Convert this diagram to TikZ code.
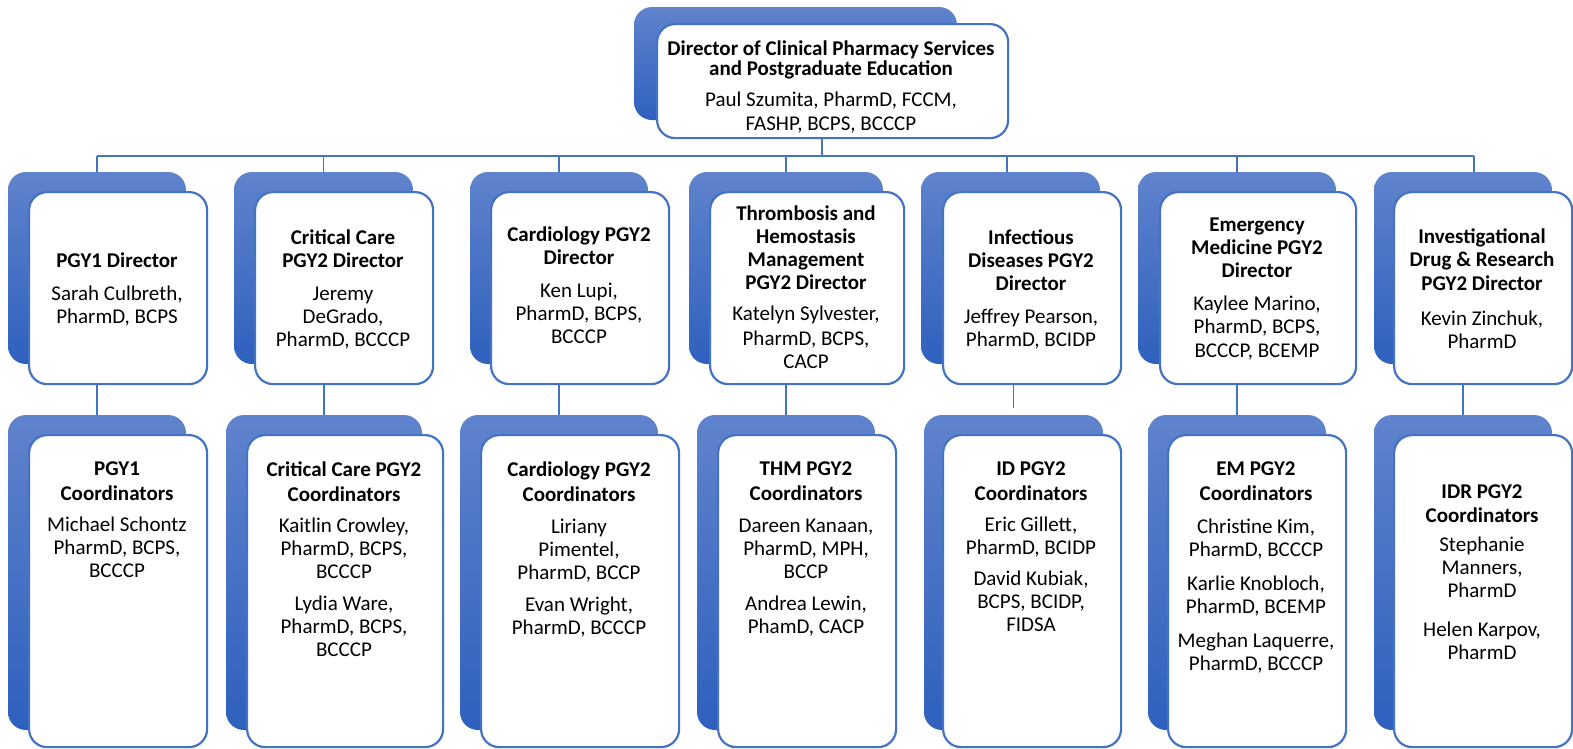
\documentclass[tikz,border=0pt]{standalone}
\usepackage{fontspec}
\setmainfont{Carlito}
\definecolor{bcol}{RGB}{68,114,196}
\definecolor{shtop}{RGB}{96,131,204}
\definecolor{shbot}{RGB}{47,96,190}
\begin{document}
\begin{tikzpicture}[x=1pt,y=-1pt,
  shadowbox/.style={top color=shtop, bottom color=shbot, draw=none, rounded corners=18pt, inner sep=0pt, outer sep=0pt, anchor=north west},
  whitebox/.style={draw=bcol, line width=2.2pt, fill=white, rounded corners=18pt, inner sep=0pt, anchor=north west},
  txt/.style={align=center, anchor=north, inner sep=0pt, font=\fontsize{21}{23}\selectfont, yshift=-4pt},
  conn/.style={draw=bcol, line width=1.5pt}]
\useasboundingbox[fill=white] (0,0) rectangle (1573,748);

% top box
\node[shadowbox, minimum width=323, minimum height=113] (sT) at (634,7) {};
\node[whitebox, minimum width=351, minimum height=114] (wT) at (656,23) {};
\node[txt] (tT) at (831,36.7) {\textbf{Director of Clinical Pharmacy Services}\\[-3pt]\textbf{and Postgraduate Education}\\[8pt]Paul Szumita, PharmD, FCCM,\\[1pt]FASHP, BCPS, BCCCP};

% row 2 (directors)
\foreach \n/\sx/\sw/\wx/\ww in {d1/8/178/28/178, d2/234/179/254/178, d3/470/178/490/178, d4/689/194/709/194, d5/921/179/942/178, d6/1138/198/1159/196, d7/1374/178/1393/178}{
  \node[shadowbox, minimum width=\sw, minimum height=192] (s\n) at (\sx,172) {};
  \node[whitebox, minimum width=\ww, minimum height=192] (w\n) at (\wx,191) {};
}
% row 3 (coordinators)
\foreach \n/\sx/\sw/\wx/\ww in {c1/8/178/28/178, c2/226/196/246/196, c3/460/198/480/198, c4/697/178/717/178, c5/924/179/942/178, c6/1148/178/1167/178, c7/1374/178/1393/178}{
  \node[shadowbox, minimum width=\sw, minimum height=315] (s\n) at (\sx,415) {};
  \node[whitebox, minimum width=\ww, minimum height=312] (w\n) at (\wx,434) {};
}

% texts row 2
\node[txt] (td1) at (117,248.7) {\textbf{PGY1 Director}\\[10pt]Sarah Culbreth,\\PharmD, BCPS};
\node[txt] (td2) at (343,225.7) {\textbf{Critical Care}\\\textbf{PGY2 Director}\\[10pt]Jeremy\\DeGrado,\\PharmD, BCCCP};
\node[txt] (td3) at (579,222.7) {\textbf{Cardiology PGY2}\\\textbf{Director}\\[10pt]Ken Lupi,\\PharmD, BCPS,\\BCCCP};
\node[txt] (td4) at (806,201.7) {\textbf{Thrombosis and}\\\textbf{Hemostasis}\\\textbf{Management}\\\textbf{PGY2 Director}\\[8pt]Katelyn Sylvester,\\[2pt]PharmD, BCPS,\\CACP};
\node[txt] (td5) at (1031,225.7) {\textbf{Infectious}\\\textbf{Diseases PGY2}\\\textbf{Director}\\[10pt]Jeffrey Pearson,\\PharmD, BCIDP};
\node[txt] (td6) at (1257,213.7) {\textbf{Emergency}\\\textbf{Medicine PGY2}\\\textbf{Director}\\[10pt]Kaylee Marino,\\PharmD, BCPS,\\[1pt]BCCCP, BCEMP};
\node[txt] (td7) at (1482,224.7) {\textbf{Investigational}\\\textbf{Drug \& Research}\\[1pt]\textbf{PGY2 Director}\\[12pt]Kevin Zinchuk,\\PharmD};

% texts row 3
\node[txt] (tc1) at (117,457.7) {\textbf{PGY1}\\[2pt]\textbf{Coordinators}\\[8pt]Michael Schontz\\PharmD, BCPS,\\BCCCP};
\node[txt] (tc2) at (344,457.7) {\textbf{Critical Care PGY2}\\[2pt]\textbf{Coordinators}\\[8pt]Kaitlin Crowley,\\PharmD, BCPS,\\BCCCP\\[9pt]Lydia Ware,\\PharmD, BCPS,\\BCCCP};
\node[txt] (tc3) at (579,457.7) {\textbf{Cardiology PGY2}\\[2pt]\textbf{Coordinators}\\[9pt]Liriany\\Pimentel,\\PharmD, BCCP\\[9pt]Evan Wright,\\PharmD, BCCCP};
\node[txt] (tc4) at (806,457.7) {\textbf{THM PGY2}\\[2pt]\textbf{Coordinators}\\[9pt]Dareen Kanaan,\\PharmD, MPH,\\BCCP\\[9pt]Andrea Lewin,\\PhamD, CACP};
\node[txt] (tc5) at (1031,457.7) {\textbf{ID PGY2}\\[2pt]\textbf{Coordinators}\\[8pt]Eric Gillett,\\PharmD, BCIDP\\[8pt]David Kubiak,\\BCPS, BCIDP,\\FIDSA};
\node[txt] (tc6) at (1256,457.7) {\textbf{EM PGY2}\\[2pt]\textbf{Coordinators}\\[10pt]Christine Kim,\\PharmD, BCCCP\\[11pt]Karlie Knobloch,\\PharmD, BCEMP\\[11pt]Meghan Laquerre,\\PharmD, BCCCP};
\node[txt] (tc7) at (1482,480.7) {\textbf{IDR PGY2}\\[1pt]\textbf{Coordinators}\\[6pt]Stephanie\\Manners,\\PharmD\\[16pt]Helen Karpov,\\PharmD};

% connectors
\coordinate (bus) at (822,156);
\coordinate (d5top) at ([xshift=-3.5pt]sd5.north);
\coordinate (d7top) at ([xshift=11pt]sd7.north);
\coordinate (c5top) at ([yshift=7pt]sc5.north);
\draw[conn] (wT.south -| bus) -- (bus);
\draw[conn] (sd1.north |- bus) -- (d7top |- bus);
\foreach \n in {d1,d2,d3,d4,d6}{\draw[conn] (s\n.north) -- (s\n.north |- bus);}
\draw[conn] (d5top) -- (d5top |- bus);
\draw[conn] (d7top) -- (d7top |- bus);
\foreach \a/\b in {d1/c1,d2/c2,d3/c3,d4/c4,d6/c6,d7/c7}{\draw[conn] (s\b.north) -- (s\b.north |- w\a.south);}
\draw[conn] (c5top) -- (c5top |- wd5.south);
\end{tikzpicture}
\end{document}
